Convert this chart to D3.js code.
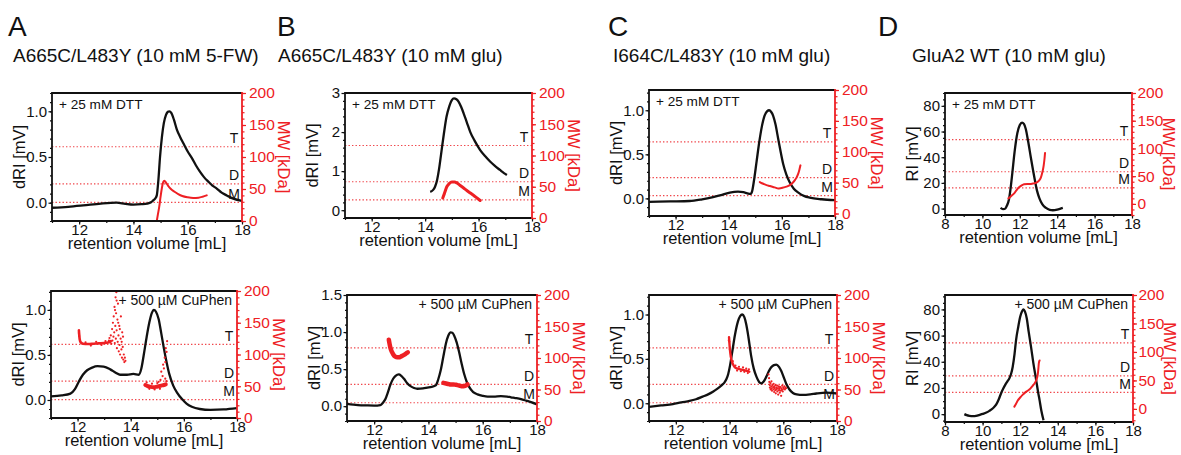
<!DOCTYPE html>
<html>
<head>
<meta charset="utf-8">
<script src="https://cdn.jsdelivr.net/npm/d3@7"></script>
<style>
  body { margin: 0; background: #fff; }
  svg { display: block; font-family: "Liberation Sans", Arial, Helvetica, sans-serif; }
</style>
</head>
<body>
<svg id="fig" width="1181" height="455"></svg>
<script>
// ---- labels ----
const panelLetters = ["A", "B", "C", "D"];
const constructNames = [
  "A665C/L483Y (10 mM 5-FW)",
  "A665C/L483Y (10 mM glu)",
  "I664C/L483Y (10 mM glu)",
  "GluA2 WT (10 mM glu)"
];
const treatments = ["+ 25 mM DTT", "+ 500 \u00b5M CuPhen"];
const oligomerLabels = ["T", "D", "M"];
const oligomerMW = [116, 58, 29];          // kDa: tetramer, dimer, monomer

// ---- tick values ----
const retentionTicks = [12, 14, 16, 18];
const retentionTicksWT = [8, 10, 12, 14, 16, 18];
const mwTicks = [0, 50, 100, 150, 200];
const dRITicks = [0, 0.5, 1.0];
const dRITicksB1 = [0, 1, 2, 3];
const dRITicksB2 = [0, 0.5, 1.0, 1.5];
const riTicksWT = [0, 20, 40, 60, 80];

// ---- A: A665C/L483Y, 5-FW ----
const aDttRI = [[11,-0.055],[11.6,-0.045],[12.15,-0.03],[12.8,-0.01],[13.38,0.0],[13.7,-0.012],[14.0,-0.02],[14.3,-0.016],[14.5,-0.01],[14.65,0.005],[14.73,0.026],[14.8,0.045],[14.86,0.08],[14.92,0.25],[14.98,0.5],[15.05,0.72],[15.12,0.87],[15.2,0.96],[15.27,0.995],[15.32,1.0],[15.4,0.98],[15.5,0.9],[15.6,0.8],[15.72,0.72],[15.84,0.65],[16.0,0.56],[16.15,0.49],[16.3,0.41],[16.45,0.34],[16.6,0.28],[16.76,0.23],[16.9,0.19],[17.07,0.155],[17.25,0.11],[17.44,0.08],[17.68,0.044],[18,0.02]];
const aDttMW = [[14.86,0],[14.9,10],[14.95,22],[15.0,38],[15.05,52],[15.1,61],[15.14,63],[15.2,60],[15.28,55],[15.38,50],[15.5,46],[15.65,42],[15.8,39],[16.0,37],[16.2,36],[16.4,36.5],[16.55,38],[16.7,40]];

const aCuRI = [[11,0.04],[11.4,0.05],[11.73,0.07],[11.9,0.12],[12.04,0.2],[12.2,0.28],[12.36,0.33],[12.55,0.36],[12.75,0.375],[12.98,0.37],[13.23,0.34],[13.45,0.3],[13.6,0.28],[13.86,0.28],[14.1,0.29],[14.3,0.28],[14.4,0.35],[14.49,0.5],[14.6,0.7],[14.7,0.86],[14.8,0.97],[14.87,1.0],[14.95,0.98],[15.05,0.9],[15.15,0.74],[15.25,0.57],[15.35,0.42],[15.45,0.29],[15.6,0.16],[15.75,0.08],[15.93,0.01],[16.1,-0.04],[16.3,-0.075],[16.6,-0.1],[17.0,-0.11],[17.5,-0.105],[18,-0.09]];
const aCuMWHigh = [[12.05,138],[12.08,124],[12.12,119],[12.2,117],[12.4,116.5],[12.6,117],[12.8,117.5],[13.0,118],[13.15,119],[13.25,121]];
const aCuMWHighScatter = [[12.05,134],[12.06,129],[12.3,119],[12.5,114],[12.7,120],[12.9,115],[13.05,121],[13.18,122],[13.2,126],[13.22,119],[13.25,130],[13.27,117],[13.3,140],[13.31,122],[13.33,150],[13.35,128],[13.36,160],[13.38,135],[13.39,175],[13.4,118],[13.42,145],[13.43,190],[13.44,125],[13.45,165],[13.46,198],[13.47,138],[13.48,110],[13.5,155],[13.51,120],[13.52,180],[13.54,130],[13.55,105],[13.57,145],[13.58,115],[13.6,100],[13.62,125],[13.63,160],[13.65,108],[13.67,95],[13.68,135],[13.7,112],[13.72,92],[13.74,100],[13.76,88],[13.78,95],[13.8,90],[13.41,170],[13.47,185],[13.53,150],[13.59,140],[13.66,120],[13.71,128]];
const aCuMWLow = [[14.55,52],[14.65,50],[14.75,49],[14.85,48.5],[14.95,49],[15.05,50],[15.15,51],[15.25,52],[15.32,53]];
const aCuMWLowScatter = [[14.6,56],[14.7,46],[14.8,54],[14.9,45],[15.0,55],[15.1,46],[15.12,60],[15.15,73],[15.2,66],[15.22,84],[15.25,78],[15.28,95],[15.3,88],[15.32,110],[15.35,104],[15.37,121],[15.34,58],[15.3,62],[15.05,57]];

// ---- B: A665C/L483Y, glutamate ----
const bDttRI = [[14.19,0.47],[14.3,0.52],[14.37,0.6],[14.45,0.78],[14.52,1.05],[14.6,1.45],[14.7,1.95],[14.8,2.39],[14.9,2.65],[15.0,2.82],[15.08,2.86],[15.17,2.84],[15.25,2.78],[15.35,2.64],[15.44,2.48],[15.56,2.25],[15.69,2.0],[15.85,1.78],[16.06,1.54],[16.25,1.38],[16.44,1.24],[16.6,1.14],[16.8,1.03],[16.95,0.95],[17.06,0.9]];
const bDttMW = [[14.66,32],[14.72,39],[14.81,50],[14.9,55],[15.0,57.5],[15.1,57.5],[15.19,56],[15.3,52.5],[15.44,48],[15.56,44],[15.69,40],[15.82,36],[15.94,32],[16.06,28]];

const bCuRI = [[11,0.03],[11.4,0.015],[11.74,0.01],[12.0,0.008],[12.23,0.015],[12.33,0.05],[12.42,0.1],[12.5,0.18],[12.6,0.29],[12.7,0.37],[12.79,0.41],[12.91,0.43],[13.0,0.41],[13.1,0.37],[13.22,0.31],[13.34,0.27],[13.47,0.245],[13.59,0.235],[13.8,0.24],[13.96,0.25],[14.12,0.26],[14.27,0.28],[14.36,0.36],[14.45,0.48],[14.55,0.67],[14.64,0.84],[14.73,0.95],[14.82,0.995],[14.88,0.99],[14.95,0.95],[15.04,0.86],[15.13,0.73],[15.22,0.58],[15.32,0.43],[15.41,0.33],[15.5,0.26],[15.65,0.19],[15.81,0.16],[16.0,0.14],[16.18,0.13],[16.4,0.13],[16.67,0.135],[16.9,0.13],[17.04,0.12],[17.2,0.11],[17.41,0.095],[17.6,0.075],[17.78,0.055],[18,0.025]];
const bCuMWHigh = [[12.54,129],[12.57,122],[12.6,116],[12.65,110],[12.7,106],[12.78,102],[12.85,101],[12.92,101],[12.97,102],[13.04,103.5],[13.1,105],[13.17,107],[13.24,109]];
const bCuMWLow = [[14.55,60.5],[14.65,59.5],[14.75,58.5],[14.82,58],[14.92,58],[15.0,57.5],[15.07,57],[15.15,56],[15.25,55],[15.32,55.5],[15.38,56.5],[15.44,58]];

// ---- C: I664C/L483Y, glutamate ----
const cDttRI = [[11,-0.04],[11.8,-0.035],[12.53,-0.03],[13.0,-0.01],[13.41,0.015],[13.75,0.04],[14.04,0.065],[14.35,0.076],[14.55,0.07],[14.7,0.058],[14.82,0.05],[14.88,0.08],[14.95,0.2],[15.05,0.42],[15.15,0.64],[15.25,0.82],[15.35,0.94],[15.45,0.99],[15.52,1.0],[15.6,0.98],[15.67,0.94],[15.76,0.84],[15.86,0.68],[15.96,0.52],[16.05,0.39],[16.17,0.27],[16.3,0.18],[16.45,0.11],[16.62,0.065],[16.85,0.025],[17.05,0.008],[17.5,-0.01],[18,-0.02]];
const cDttMW = [[15.17,51],[15.25,49],[15.33,47.5],[15.42,46],[15.55,44.5],[15.67,43],[15.78,41.5],[15.86,40.5],[15.95,41],[16.05,42],[16.18,43.5],[16.3,46],[16.4,49.5],[16.49,54],[16.56,59],[16.62,65],[16.66,71],[16.7,78]];

const cCuRI = [[11,-0.04],[11.45,-0.025],[11.89,-0.01],[12.2,0.01],[12.51,0.026],[12.75,0.045],[13.0,0.075],[13.2,0.1],[13.38,0.13],[13.55,0.165],[13.69,0.2],[13.8,0.23],[13.88,0.27],[13.95,0.33],[14.02,0.43],[14.1,0.58],[14.2,0.77],[14.31,0.92],[14.4,0.985],[14.47,1.0],[14.55,0.97],[14.62,0.89],[14.7,0.75],[14.8,0.54],[14.9,0.39],[15.0,0.3],[15.1,0.24],[15.18,0.225],[15.27,0.245],[15.37,0.3],[15.46,0.36],[15.55,0.405],[15.65,0.43],[15.74,0.435],[15.84,0.41],[15.93,0.36],[16.02,0.29],[16.11,0.22],[16.23,0.155],[16.36,0.115],[16.5,0.1],[16.73,0.094],[17.0,0.1],[17.23,0.11],[17.6,0.12],[18,0.11]];
const cCuMWHigh = [[13.98,133],[14.0,120],[14.03,107],[14.06,99],[14.1,93],[14.15,88],[14.2,85],[14.3,83],[14.4,82],[14.5,81],[14.6,80],[14.7,79]];
const cCuMWHighScatter = [[14.05,102],[14.12,95],[14.22,88],[14.28,80],[14.35,86],[14.42,79],[14.5,85],[14.55,78],[14.62,83],[14.68,76],[14.72,82],[14.74,78],[13.99,126],[14.01,114],[13.97,128]];
const cCuMWLowScatter = [[15.45,74],[15.47,68],[15.48,62],[15.5,57],[15.5,53],[15.52,60],[15.53,50],[15.55,55],[15.56,63],[15.57,52],[15.58,48],[15.6,57],[15.62,54],[15.63,50],[15.64,59],[15.66,46],[15.67,55],[15.68,52],[15.7,49],[15.71,57],[15.72,44],[15.74,53],[15.75,50],[15.77,56],[15.78,47],[15.8,52],[15.81,42],[15.83,55],[15.84,49],[15.86,51],[15.87,45],[15.89,54],[15.9,48],[15.92,40],[15.93,52],[15.95,50],[15.96,56],[15.98,47],[16.0,53],[16.02,51],[16.04,55],[16.06,50],[16.08,53],[16.1,52],[15.55,51],[15.65,53],[15.76,52],[15.85,54],[15.94,49]];

// ---- D: GluA2 WT, glutamate ----
const dDttRI = [[10.97,0.5],[11.1,-0.4],[11.2,-0.3],[11.3,2],[11.42,7],[11.5,15],[11.6,27.7],[11.72,44],[11.87,58.8],[12.0,65],[12.12,67],[12.22,66],[12.32,62],[12.45,52],[12.6,39],[12.77,25],[12.92,14],[13.05,8],[13.2,3.5],[13.4,0.5],[13.6,-1],[13.77,-1.3],[14.0,-0.8],[14.15,-0.2],[14.3,0.5]];
const dDttMW = [[11.39,10],[11.5,13],[11.6,16],[11.7,19],[11.83,25],[11.96,30],[12.1,33.5],[12.23,35.5],[12.4,36],[12.6,36],[12.75,37],[12.86,38],[12.96,40],[13.05,43],[13.13,48],[13.19,55],[13.24,62],[13.28,70],[13.32,81],[13.35,92]];

const dCuRI = [[9.03,0],[9.15,-0.8],[9.3,-1.3],[9.5,-1.5],[9.65,-1.3],[9.85,-0.5],[10.0,0.2],[10.2,1.2],[10.36,2.5],[10.55,4.5],[10.72,7.2],[10.85,11],[10.98,15.8],[11.1,19.5],[11.21,22.5],[11.32,25],[11.43,27.5],[11.52,31],[11.6,36],[11.7,46],[11.78,56.6],[11.9,67],[12.0,74.4],[12.1,78.5],[12.17,80],[12.25,78.5],[12.35,73],[12.45,63],[12.58,51],[12.7,39],[12.85,26],[12.95,17],[13.03,10.7],[13.12,3],[13.24,-4.6]];
const dCuMW = [[11.69,4],[11.78,9],[11.87,14.7],[12.0,20],[12.14,25],[12.27,29],[12.4,32],[12.55,36],[12.67,41],[12.77,45],[12.85,50],[12.9,55],[12.94,62],[12.97,72],[12.99,80],[13.03,85]];

// ---- layout: plot frames [left, right, top, bottom] ----
const frames = [
  [52, 242, 93, 221], [51, 237, 291, 418],
  [345, 532, 93, 218], [347, 537, 295, 421],
  [649, 835, 90, 216], [649, 837, 295, 421],
  [945, 1132, 93, 215], [945, 1133, 295, 422]
];
const letterX = [8, 277, 608, 878];
const nameX = [13, 278, 613, 912];
const mwTitleOffset = [36, 36, 36, 31];   // per column, distance of the MW title from the right axis
const mwTickPad = [3, 3, 3, 1.5];

const RED = "#ee2024";
const RED_DOT = "#f0454a";

const panels = [
  { col: 0, row: 0, ri: aDttRI, riDomain: [-0.2, 1.2], riTicks: dRITicks, riMinor: 0.1, fmt: ".1f", xDomain: [11, 18], xTicks: retentionTicks, mwDomain: [0, 200], riTitle: "dRI [mV]",
    lines: [{ d: aDttMW, w: 2 }], dots: [] },
  { col: 0, row: 1, ri: aCuRI, riDomain: [-0.2, 1.21], riTicks: dRITicks, riMinor: 0.1, fmt: ".1f", xDomain: [11, 18], xTicks: retentionTicks, mwDomain: [0, 200], riTitle: "dRI [mV]",
    lines: [{ d: aCuMWHigh, w: 2.6 }, { d: aCuMWLow, w: 4 }], dots: [aCuMWHighScatter, aCuMWLowScatter] },
  { col: 1, row: 0, ri: bDttRI, riDomain: [-0.2, 3], riTicks: dRITicksB1, riMinor: 0.2, fmt: "d", xDomain: [11, 18], xTicks: retentionTicks, mwDomain: [0, 200], riTitle: "dRI [mV]",
    lines: [{ d: bDttMW, w: 3 }], dots: [] },
  { col: 1, row: 1, ri: bCuRI, riDomain: [-0.2, 1.5], riTicks: dRITicksB2, riMinor: 0.1, fmt: ".1f", xDomain: [11, 18], xTicks: retentionTicks, mwDomain: [0, 200], riTitle: "dRI [mV]",
    lines: [{ d: bCuMWHigh, w: 4.5 }, { d: bCuMWLow, w: 4.5 }], dots: [] },
  { col: 2, row: 0, ri: cDttRI, riDomain: [-0.2, 1.23], riTicks: dRITicks, riMinor: 0.1, fmt: ".1f", xDomain: [11, 18], xTicks: retentionTicks, mwDomain: [-4, 200], riTitle: "dRI [mV]",
    lines: [{ d: cDttMW, w: 2 }], dots: [] },
  { col: 2, row: 1, ri: cCuRI, riDomain: [-0.2, 1.22], riTicks: dRITicks, riMinor: 0.1, fmt: ".1f", xDomain: [11, 18], xTicks: retentionTicks, mwDomain: [0, 200], riTitle: "dRI [mV]",
    lines: [{ d: cCuMWHigh, w: 2.4 }], dots: [cCuMWHighScatter, cCuMWLowScatter] },
  { col: 3, row: 0, ri: dDttRI, riDomain: [-5, 90], riTicks: riTicksWT, riMinor: 5, fmt: "d", xDomain: [8, 18], xTicks: retentionTicksWT, mwDomain: [-20, 200], riTitle: "RI [mV]",
    lines: [{ d: dDttMW, w: 2 }], dots: [] },
  { col: 3, row: 1, ri: dCuRI, riDomain: [-6, 91], riTicks: riTicksWT, riMinor: 5, fmt: "d", xDomain: [8, 18], xTicks: retentionTicksWT, mwDomain: [-23, 200], riTitle: "RI [mV]",
    lines: [{ d: dCuMW, w: 2 }], dots: [] }
];

const svg = d3.select("#fig");

// panel letters and construct names
panelLetters.forEach((L, i) => {
  svg.append("text").attr("x", letterX[i]).attr("y", 36)
    .attr("font-size", 28).attr("fill", "#111").text(L);
  svg.append("text").attr("x", nameX[i]).attr("y", 62)
    .attr("font-size", 19).attr("fill", "#111").text(constructNames[i]);
});

function range(a, b, s) {
  const out = [];
  for (let v = Math.ceil(a / s - 1e-9) * s; v <= b + 1e-9; v += s) out.push(+v.toFixed(6));
  return out;
}

panels.forEach((p, i) => {
  const [l, r, t, b] = frames[i];
  const g = svg.append("g");
  const x = d3.scaleLinear().domain(p.xDomain).range([l, r]);
  const y = d3.scaleLinear().domain(p.riDomain).range([b, t]);
  const mw = d3.scaleLinear().domain(p.mwDomain).range([b, t]);

  const clipId = "clip" + i;
  svg.append("clipPath").attr("id", clipId).append("rect")
    .attr("x", l).attr("y", t).attr("width", r - l).attr("height", b - t);

  // oligomer reference lines
  oligomerMW.forEach((m, k) => {
    g.append("line").attr("x1", l).attr("x2", r).attr("y1", mw(m)).attr("y2", mw(m))
      .attr("stroke", RED_DOT).attr("stroke-width", 1.2).attr("stroke-dasharray", "1.4,2.1");
    g.append("text").attr("x", r - 8).attr("y", mw(m) - 3.5).attr("text-anchor", "middle")
      .attr("font-size", 14).attr("fill", "#111").text(oligomerLabels[k]);
  });

  const plot = g.append("g").attr("clip-path", `url(#${clipId})`);

  // refractive index trace
  plot.append("path").datum(p.ri)
    .attr("d", d3.line().x(d => x(d[0])).y(d => y(d[1])).curve(d3.curveMonotoneX))
    .attr("fill", "none").attr("stroke", "#111").attr("stroke-width", 2.3)
    .attr("stroke-linejoin", "round");

  // molar mass traces
  p.lines.forEach(s => {
    plot.append("path").datum(s.d)
      .attr("d", d3.line().x(d => x(d[0])).y(d => mw(d[1])).curve(d3.curveMonotoneX))
      .attr("fill", "none").attr("stroke", RED).attr("stroke-width", s.w)
      .attr("stroke-linecap", "round").attr("stroke-linejoin", "round");
  });
  p.dots.forEach(set => {
    plot.selectAll(null).data(set).enter().append("circle")
      .attr("cx", d => x(d[0])).attr("cy", d => mw(d[1])).attr("r", 1.1).attr("fill", RED);
  });

  // axes
  const fmt = d3.format(p.fmt);
  const left = g.append("g").attr("transform", `translate(${l},0)`)
    .call(d3.axisLeft(y).tickValues(p.riTicks).tickSize(3.5).tickPadding(1.5).tickFormat(fmt));
  const leftMinor = g.append("g").attr("transform", `translate(${l},0)`)
    .call(d3.axisLeft(y).tickValues(range(p.riDomain[0], p.riDomain[1], p.riMinor)).tickSize(2).tickFormat(""));
  const bottom = g.append("g").attr("transform", `translate(0,${b})`)
    .call(d3.axisBottom(x).tickValues(p.xTicks).tickSize(3.5).tickPadding(0).tickFormat(d3.format("d")));
  const bottomMinor = g.append("g").attr("transform", `translate(0,${b})`)
    .call(d3.axisBottom(x).tickValues(range(p.xDomain[0], p.xDomain[1], 1)).tickSize(2).tickFormat(""));
  const right = g.append("g").attr("transform", `translate(${r},0)`)
    .call(d3.axisRight(mw).tickValues(mwTicks).tickSize(4).tickPadding(mwTickPad[p.col]).tickFormat(d3.format("d")));
  const rightMinor = g.append("g").attr("transform", `translate(${r},0)`)
    .call(d3.axisRight(mw).tickValues(range(p.mwDomain[0], p.mwDomain[1], 10)).tickSize(2.5).tickFormat(""));

  [left, leftMinor, bottom, bottomMinor].forEach(a => {
    a.select(".domain").remove();
    a.selectAll("line").attr("stroke", "#111").attr("stroke-width", 1.2);
    a.selectAll("text").attr("font-size", 15).attr("fill", "#111").attr("font-family", null);
  });
  [right, rightMinor].forEach(a => {
    a.select(".domain").remove();
    a.selectAll("line").attr("stroke", RED).attr("stroke-width", 1.2);
    a.selectAll("text").attr("font-size", 15.5).attr("fill", RED).attr("font-family", null);
  });

  // frame
  g.append("path").attr("d", `M${r},${t}H${l}V${b}H${r}`)
    .attr("fill", "none").attr("stroke", "#111").attr("stroke-width", 1.8);
  g.append("line").attr("x1", r).attr("x2", r).attr("y1", t - 0.9).attr("y2", b + 0.9)
    .attr("stroke", RED).attr("stroke-width", 1.8);

  // axis titles
  g.append("text").attr("transform", `translate(${l - 27},${(t + b) / 2}) rotate(-90)`)
    .attr("text-anchor", "middle").attr("font-size", 16.5).attr("fill", "#111")
    .text(p.riTitle);
  g.append("text").attr("transform", `translate(${r + mwTitleOffset[p.col]},${(t + b) / 2}) rotate(90)`)
    .attr("text-anchor", "middle").attr("font-size", 16.5).attr("fill", RED)
    .text("MW [kDa]");
  g.append("text").attr("x", (l + r) / 2).attr("y", b + 28).attr("text-anchor", "middle")
    .attr("font-size", 16.5).attr("fill", "#111").text("retention volume [mL]");

  // treatment note
  if (p.row === 0) {
    g.append("text").attr("x", l + 7).attr("y", t + 16).attr("font-size", 13.6).attr("fill", "#111")
      .text(treatments[0]);
  } else {
    g.append("text").attr("x", r - 5).attr("y", t + 14).attr("text-anchor", "end")
      .attr("font-size", 14).attr("fill", "#111").text(treatments[1]);
  }
});
</script>
</body>
</html>
